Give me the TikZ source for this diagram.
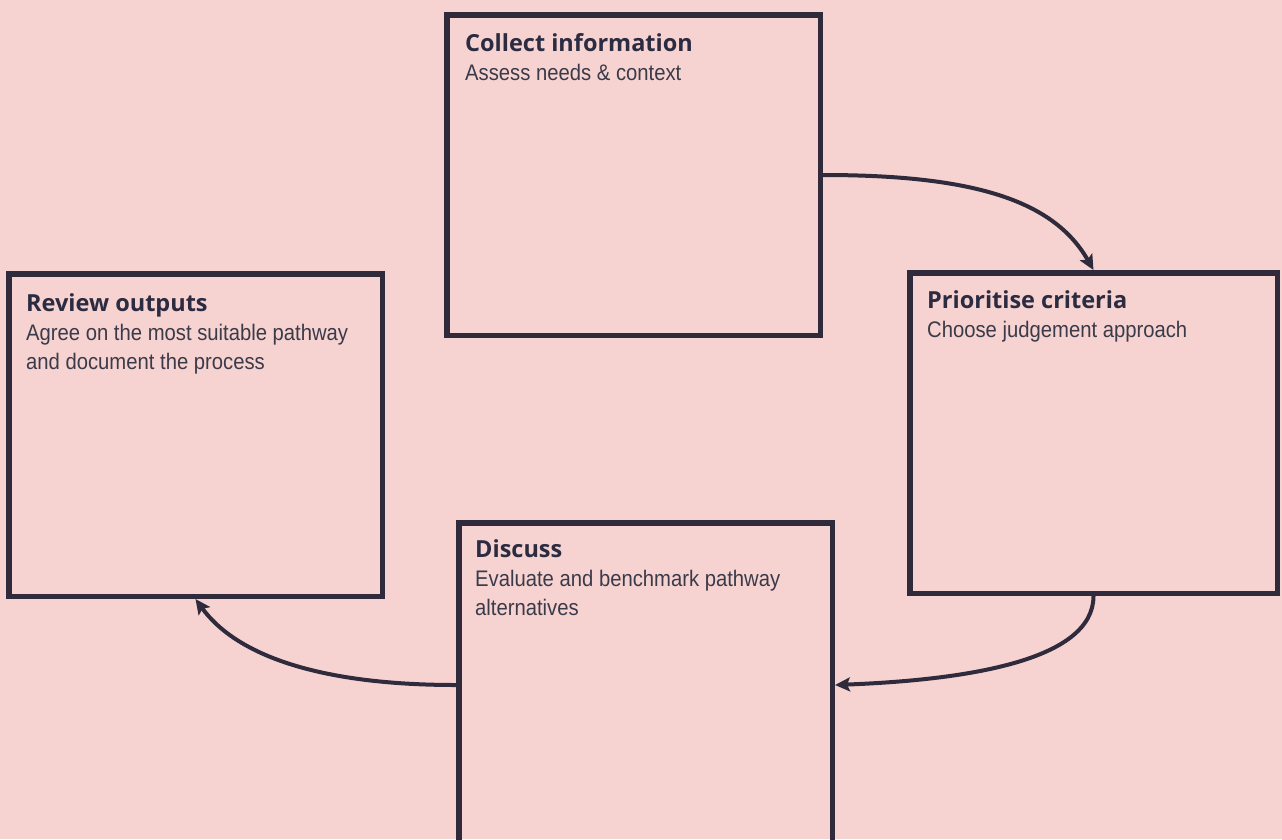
\documentclass[tikz,border=0pt]{standalone}
\usepackage{fontspec}
\usetikzlibrary{arrows.meta}
\setmainfont{Liberation Sans}
\newfontfamily\titlefont{Open Sans}[UprightFont=* Bold]
\newfontfamily\bodyfont{Liberation Sans}[FakeStretch=0.9]
\definecolor{bg}{HTML}{F6D3D0}
\definecolor{ink}{HTML}{2F2B3D}
\definecolor{titlec}{HTML}{2B2B42}
\definecolor{bodyc}{HTML}{3B3A4A}
\newcommand{\lines}[1]{\begin{tabular}[t]{@{}l@{}}#1\end{tabular}}
\begin{document}
\begin{tikzpicture}[x=1pt,y=-1pt,
  stepbox/.style={draw=ink, line width=5.5pt, rectangle, inner sep=0pt, anchor=north west},
  ttl/.style={anchor=base west, inner sep=0pt, text=titlec, font=\titlefont\fontsize{23.5}{28}\selectfont},
  bdy/.style={anchor=base west, inner sep=0pt, text=bodyc, font=\bodyfont\fontsize{22.5}{29}\selectfont},
  conn/.style={draw=ink, line width=4pt, -{Stealth[length=15pt,width=14pt,inset=3pt]}}
]
\fill[bg] (0,0) rectangle (1282,839);
\useasboundingbox (0,0) rectangle (1282,839);
\begin{scope}
\clip (0,0) rectangle (1282,839);
\node[stepbox, minimum width=373.5pt, minimum height=320.5pt] (collect) at (444,12) {};
\node[stepbox, minimum width=367.5pt, minimum height=320.5pt] (prio) at (907,270) {};
\node[stepbox, minimum width=373.5pt, minimum height=322.5pt] (review) at (6,271) {};
\node[stepbox, minimum width=373.5pt, minimum height=324.5pt] (discuss) at (456,520) {};

\node[ttl] (t1) at (465,51) {Collect information};
\node[bdy] (b1) at (465,80) {Assess needs \& context};
\node[ttl] (t2) at (927,308) {Prioritise criteria};
\node[bdy] (b2) at (927,337) {Choose judgement approach};
\node[ttl] (t3) at (26,311) {Review outputs};
\node[bdy] (b3) at (26,340) {\lines{Agree on the most suitable pathway\\and document the process}};
\node[ttl] (t4) at (475,557) {Discuss};
\node[bdy] (b4) at (475,586) {\lines{Evaluate and benchmark pathway\\alternatives}};

\draw[conn] (collect.east) .. controls +(150,0) and +(-40,-70) .. (prio.north);
\draw[conn] (prio.south) .. controls +(0,65) and +(130,-5) .. (discuss.east);
\draw[conn] (discuss.west) .. controls +(-140,0) and +(40,55) .. (review.south);
\end{scope}
\end{tikzpicture}
\end{document}
